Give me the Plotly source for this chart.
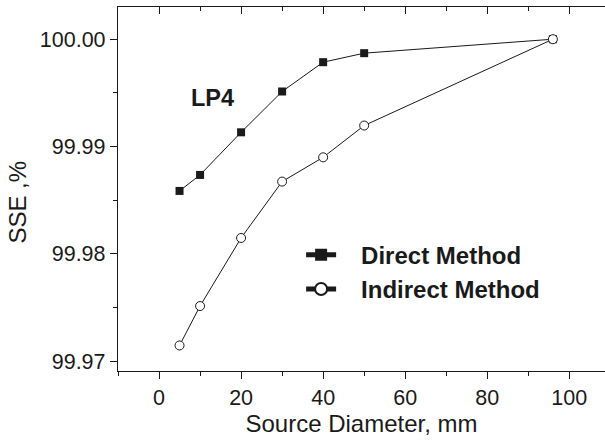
import plotly.graph_objects as go

# ---- data ----
diameter = [5, 10, 20, 30, 40, 50, 96]
direct_sse = [99.98587, 99.98736, 99.99133, 99.99513, 99.99786, 99.99870, 100.0000]
indirect_sse = [99.97148, 99.97515, 99.98149, 99.98674, 99.98900, 99.99196, 100.0000]

x_ticks = [0, 20, 40, 60, 80, 100]
x_minor = [-10, 10, 30, 50, 70, 90, 110]
y_ticks = [99.97, 99.98, 99.99, 100.00]
y_ticklabels = ["99.97", "99.98", "99.99", "100.00"]
y_minor = [99.975, 99.985, 99.995]

FONT = "Liberation Sans, Arial, Helvetica, sans-serif"
INK = "#1a1a1a"
PAD = "\u00a0\u00a0\u00a0"

fig = go.Figure()
fig.add_trace(go.Scatter(
    x=diameter, y=direct_sse, name=PAD + "Direct Method", mode="lines+markers",
    line=dict(color=INK, width=1),
    marker=dict(symbol="square", size=8, color=INK, line=dict(width=0)),
))
fig.add_trace(go.Scatter(
    x=diameter, y=indirect_sse, name=PAD + "Indirect Method", mode="lines+markers",
    line=dict(color=INK, width=1),
    marker=dict(symbol="circle", size=9, color="white", line=dict(color=INK, width=1)),
))
# empty trace to anchor the top mirror axis
fig.add_trace(go.Scatter(x=[], y=[], xaxis="x2", showlegend=False, hoverinfo="skip"))

fig.update_layout(
    width=605, height=445,
    margin=dict(l=118, r=0, t=7, b=74),
    paper_bgcolor="white", plot_bgcolor="white",
    font=dict(family=FONT, color=INK, size=21.5),
    xaxis=dict(
        range=[-10, 108.7], showgrid=False, zeroline=False,
        showline=True, linecolor=INK, linewidth=1.3,
        tickmode="array", tickvals=x_ticks,
        ticks="outside", ticklen=7, tickwidth=1.3, tickcolor=INK,
        minor=dict(tickvals=x_minor, ticks="outside", ticklen=4, tickwidth=1.3, tickcolor=INK),
        tickfont=dict(size=21.5),
        title=dict(text="Source Diameter, mm", font=dict(size=24), standoff=6),
    ),
    xaxis2=dict(
        range=[-10, 108.7], overlaying="x", side="top", anchor="y",
        showgrid=False, zeroline=False, showticklabels=False,
        showline=True, linecolor=INK, linewidth=1.3,
        tickmode="array", tickvals=x_ticks,
        ticks="inside", ticklen=7, tickwidth=1.3, tickcolor=INK,
        minor=dict(tickvals=x_minor, ticks="inside", ticklen=4, tickwidth=1.3, tickcolor=INK),
    ),
    yaxis=dict(
        range=[99.9691, 100.0030], showgrid=False, zeroline=False,
        showline=True, linecolor=INK, linewidth=1.3,
        tickmode="array", tickvals=y_ticks, ticktext=y_ticklabels,
        ticks="outside", ticklen=7, tickwidth=1.3, tickcolor=INK,
        minor=dict(tickvals=y_minor, ticks="outside", ticklen=4, tickwidth=1.3, tickcolor=INK),
        tickfont=dict(size=21.5),
    ),
    legend=dict(
        x=0.376, y=0.380, xanchor="left", yanchor="top",
        bgcolor="rgba(0,0,0,0)", borderwidth=0,
        font=dict(size=24, family=FONT, color=INK, weight="bold"),
        itemsizing="constant", tracegroupgap=0,
    ),
    showlegend=True,
    annotations=[
        dict(text="<b>LP4</b>", x=13.0, y=99.9945, xref="x", yref="y",
             showarrow=False, font=dict(size=23.5, color=INK)),
        dict(text="SSE ,%", x=-0.2064, y=0.464, xref="paper", yref="paper",
             textangle=-90, showarrow=False, xanchor="center", yanchor="middle",
             font=dict(size=24, color=INK)),
    ],
)

fig.write_html("out.html")
